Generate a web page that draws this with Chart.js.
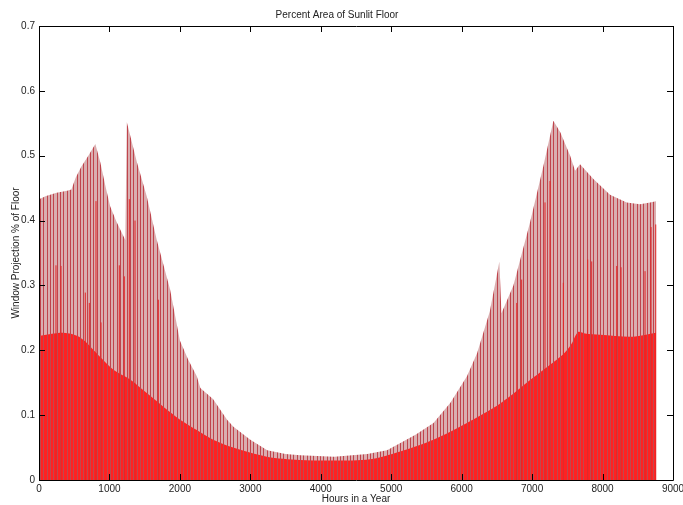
<!DOCTYPE html>
<html>
<head>
<meta charset="utf-8">
<script src="https://cdn.jsdelivr.net/npm/chart.js@4.4.1/dist/chart.umd.min.js"></script>
<style>
  html, body { margin: 0; padding: 0; background: #fff; }
  #wrap { width: 683px; height: 505px; }
</style>
</head>
<body>
<div id="wrap"><canvas id="c" width="683" height="505"></canvas></div>
<script>
// Outer envelope of daily peaks (hour, fraction)
const outerHours = [0, 100, 250, 400, 460, 520, 600, 700, 800, 870, 950, 1010, 1100, 1225, 1246, 1290, 1390, 1530, 1670, 1860, 2000, 2120, 2240, 2290, 2470, 2670, 2760, 3000, 3240, 3500, 3710, 4190, 4660, 4940, 5130, 5350, 5600, 5840, 6075, 6220, 6400, 6470, 6535, 6565, 6734, 6970, 7160, 7302, 7400, 7540, 7610, 7680, 7870, 8106, 8343, 8530, 8675, 8760];
const outerVals  = [0.433, 0.438, 0.443, 0.446, 0.448, 0.466, 0.483, 0.500, 0.518, 0.490, 0.450, 0.422, 0.398, 0.370, 0.552, 0.533, 0.490, 0.437, 0.371, 0.294, 0.215, 0.185, 0.160, 0.142, 0.125, 0.093, 0.082, 0.062, 0.046, 0.040, 0.038, 0.036, 0.040, 0.046, 0.057, 0.070, 0.088, 0.119, 0.160, 0.196, 0.260, 0.300, 0.337, 0.257, 0.300, 0.397, 0.484, 0.554, 0.536, 0.500, 0.477, 0.487, 0.464, 0.440, 0.428, 0.425, 0.428, 0.430];

// Inner (dense) envelope
const innerHours = [0, 345, 580, 866, 1056, 1293, 1530, 1765, 2003, 2240, 2472, 2756, 3234, 3700, 4200, 4700, 5128, 5597, 6075, 6548, 7017, 7443, 7560, 7650, 7750, 7965, 8437, 8760];
const innerVals  = [0.222, 0.227, 0.220, 0.190, 0.170, 0.155, 0.134, 0.113, 0.093, 0.077, 0.062, 0.050, 0.036, 0.031, 0.030, 0.032, 0.044, 0.062, 0.088, 0.118, 0.158, 0.194, 0.210, 0.228, 0.226, 0.224, 0.221, 0.227];

// Individual spikes of intermediate height
const spikeHours = [241, 312, 657, 714, 809, 880, 1140, 1211, 1282, 1363, 1694, 6782, 6852, 7183, 7254, 7443, 7789, 7846, 8201, 8262, 8603, 8688, 8755];
const spikeVals  = [0.331, 0.330, 0.289, 0.273, 0.430, 0.243, 0.331, 0.314, 0.433, 0.400, 0.278, 0.273, 0.309, 0.428, 0.461, 0.304, 0.340, 0.337, 0.330, 0.328, 0.322, 0.390, 0.394];

const xTicks = [0, 1000, 2000, 3000, 4000, 5000, 6000, 7000, 8000, 9000];
const yTicks = [0, 0.1, 0.2, 0.3, 0.4, 0.5, 0.6, 0.7];

function stripePattern(base, line) {
  const pc = document.createElement('canvas');
  pc.width = 10; pc.height = 4;
  const p = pc.getContext('2d');
  p.fillStyle = base; p.fillRect(0, 0, 10, 4);
  p.fillStyle = line;
  [0, 3, 7].forEach(x => p.fillRect(x, 0, 1, 4));
  return document.getElementById('c').getContext('2d').createPattern(pc, 'repeat');
}

const outerData = outerHours.map((h, i) => ({x: h, y: outerVals[i]}));
const innerData = innerHours.map((h, i) => ({x: h, y: innerVals[i]}));
const spikeData = [];
spikeHours.forEach((h, i) => { spikeData.push({x: h, y: 0}, {x: h, y: spikeVals[i]}, {x: h, y: null}); });

const FONT = "'Liberation Sans', Arial, sans-serif";

const boxTicks = {
  id: 'boxTicks',
  afterDraw(chart) {
    const {ctx, chartArea: a, scales: {x, y}} = chart;
    ctx.save();
    ctx.strokeStyle = '#000';
    ctx.lineWidth = 1;
    ctx.beginPath();
    ctx.rect(Math.round(a.left) + 0.5, Math.round(a.top) + 0.5, Math.round(a.right - a.left), Math.round(a.bottom - a.top));
    ctx.stroke();
    ctx.beginPath();
    const L = 6;
    xTicks.forEach(v => {
      const px = Math.round(x.getPixelForValue(v)) + 0.5;
      ctx.moveTo(px, a.bottom); ctx.lineTo(px, a.bottom - L);
      ctx.moveTo(px, a.top); ctx.lineTo(px, a.top + L);
    });
    yTicks.forEach(v => {
      const py = Math.round(y.getPixelForValue(v)) + 0.5;
      ctx.moveTo(a.left, py); ctx.lineTo(a.left + L, py);
      ctx.moveTo(a.right, py); ctx.lineTo(a.right - L, py);
    });
    ctx.stroke();
    ctx.restore();
  }
};

new Chart(document.getElementById('c'), {
  type: 'line',
  data: {
    datasets: [
      { data: spikeData, order: 0, borderColor: '#e32626', borderWidth: 1, pointRadius: 0, fill: false, spanGaps: false, tension: 0 },
      { data: innerData, order: 1, borderWidth: 0, borderColor: 'rgba(0,0,0,0)', pointRadius: 0, fill: 'origin', tension: 0.3, backgroundColor: stripePattern('#ff2222', '#c0484e') },
      { data: outerData, order: 2, borderWidth: 0, borderColor: 'rgba(0,0,0,0)', pointRadius: 0, fill: 'origin', tension: 0, backgroundColor: stripePattern('#daaeb0', '#c0444c') }
    ]
  },
  options: {
    responsive: false,
    animation: false,
    events: [],
    layout: { padding: { left: 1, right: 10, top: 0, bottom: 0 } },
    plugins: {
      legend: { display: false },
      tooltip: { enabled: false },
      title: { display: true, text: 'Percent Area of Sunlit Floor', color: '#222', font: { family: FONT, size: 10, weight: 'normal' }, padding: { top: 9, bottom: 5 } }
    },
    scales: {
      x: {
        type: 'linear', min: 0, max: 9000,
        afterBuildTicks: s => { s.ticks = xTicks.map(v => ({value: v})); },
        afterFit: s => { s.height = 25; s.paddingLeft = 0; s.paddingRight = 0; },
        grid: { display: false, drawTicks: false },
        border: { display: false },
        ticks: { color: '#222', font: { family: FONT, size: 10 }, padding: 3, maxRotation: 0, autoSkip: false, callback: v => String(v) },
        title: { display: true, text: 'Hours in a Year', color: '#222', font: { family: FONT, size: 10 }, padding: { top: 4, bottom: 0 } }
      },
      y: {
        type: 'linear', min: 0, max: 0.7,
        afterBuildTicks: s => { s.ticks = yTicks.map(v => ({value: v})); },
        afterFit: s => { s.width = 38; s.paddingTop = 0; s.paddingBottom = 0; },
        grid: { display: false, drawTicks: false },
        border: { display: false },
        ticks: { color: '#222', font: { family: FONT, size: 10 }, padding: 4, callback: v => (v === 0 ? '0' : String(Math.round(v * 10) / 10)) },
        title: { display: true, text: 'Window Projection % of Floor', color: '#222', font: { family: FONT, size: 10 }, padding: { top: 9, bottom: 0 } }
      }
    }
  },
  plugins: [boxTicks]
});
</script>
</body>
</html>
